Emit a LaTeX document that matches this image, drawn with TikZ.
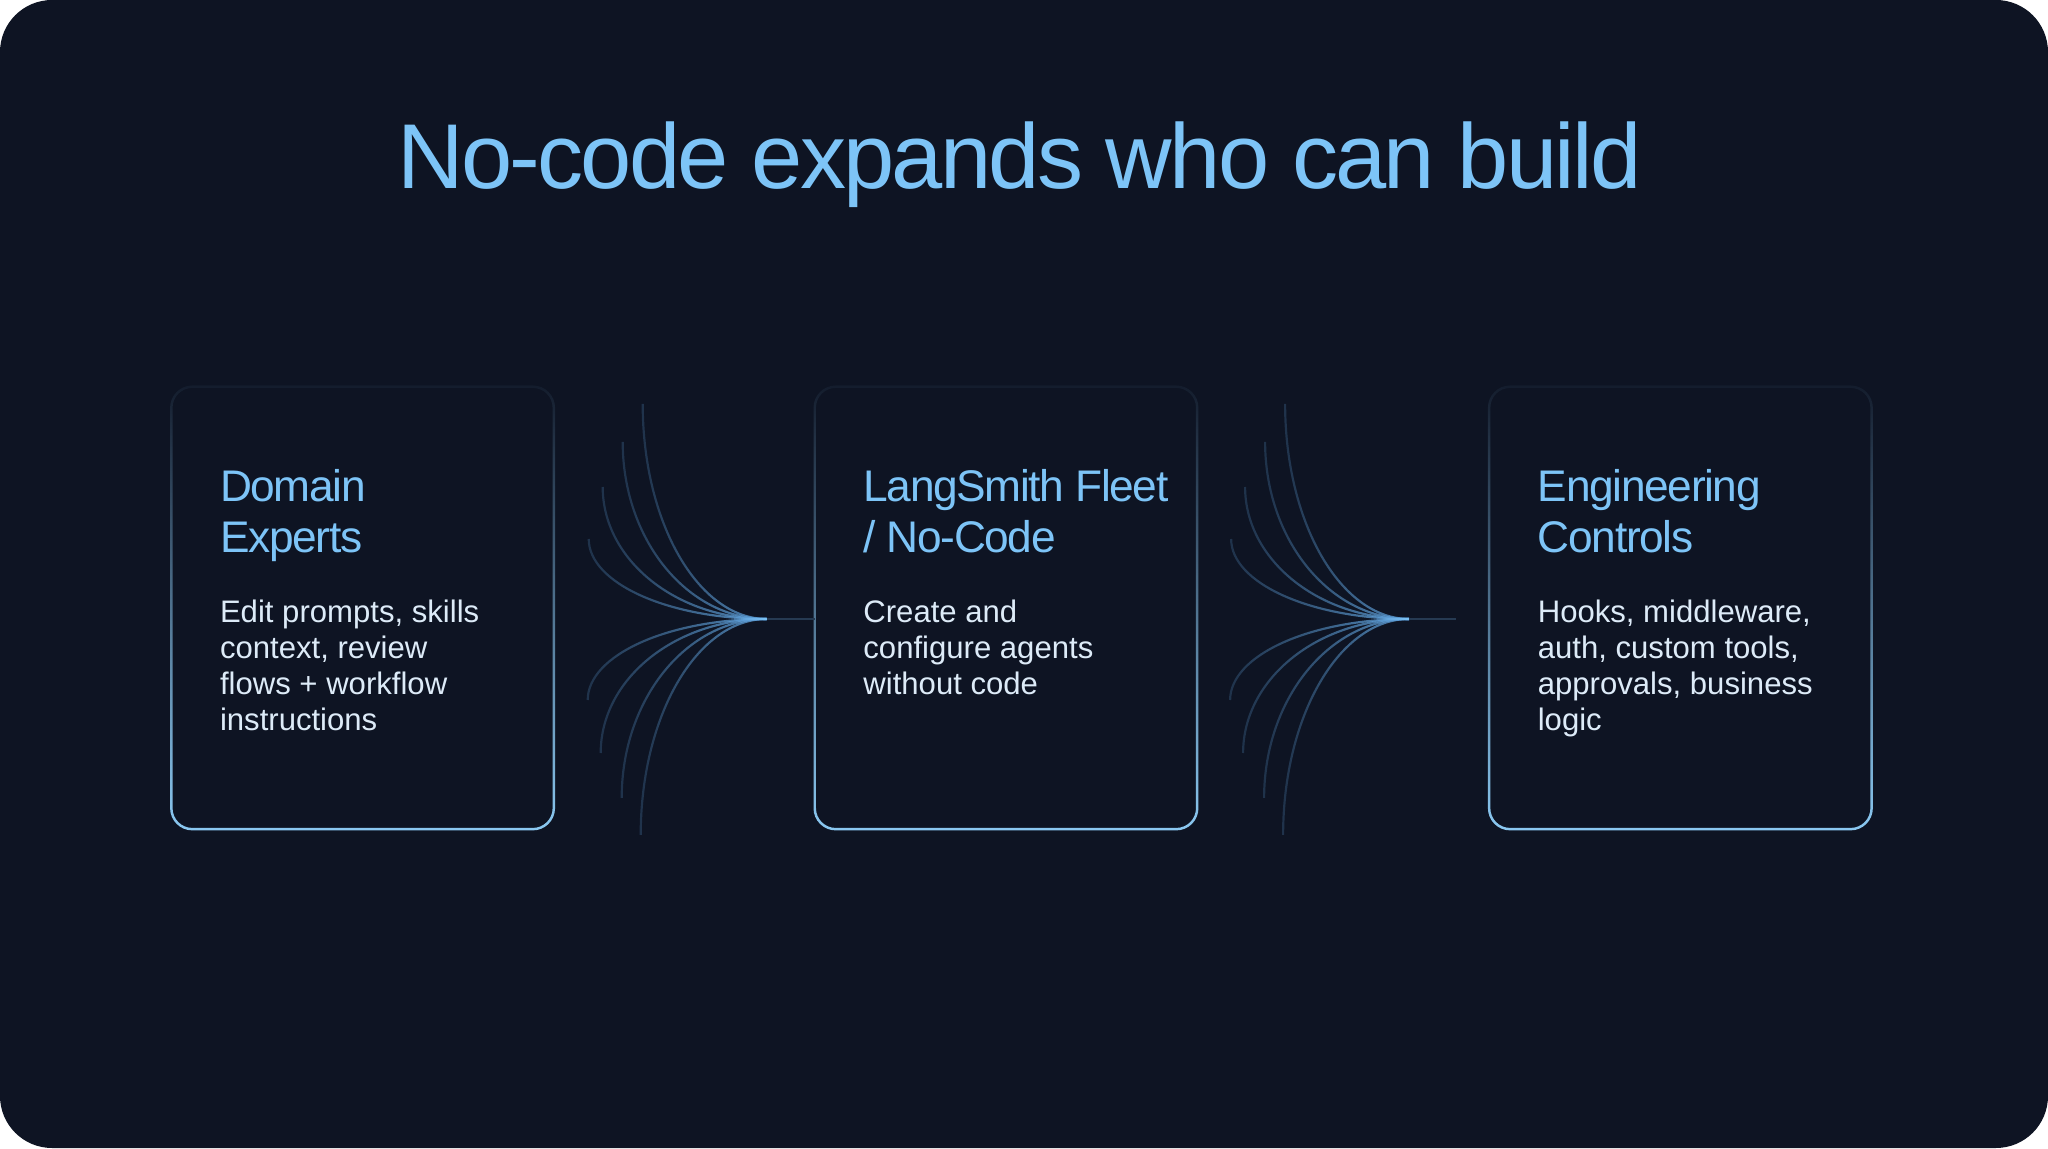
\documentclass[tikz,border=0pt]{standalone}
\usepackage{fontspec}
\setmainfont{Liberation Sans}
\newfontfamily\tightfont[LetterSpace=-3]{Liberation Sans}
\usepackage{tikz}
\usetikzlibrary{calc,positioning,fadings}

\definecolor{navy}{RGB}{14,20,35}
\definecolor{skyblue}{RGB}{125,196,247}
\definecolor{paleblue}{RGB}{221,235,248}
\definecolor{rimblue}{RGB}{139,201,242}
\definecolor{fanblue}{RGB}{94,159,216}
\definecolor{hubdark}{RGB}{38,58,82}

\tikzfading[name=rimfade,top color=transparent!95,bottom color=transparent!0]
\tikzfading[name=fanfade,left color=transparent!78,right color=transparent!15]
\tikzfading[name=tipfade,left color=transparent!100,right color=transparent!0]

\begin{document}
\begin{tikzpicture}[card/.style={minimum width=3.81cm,minimum height=4.41cm,inner sep=0pt},
cardline/.style={rimblue,line width=0.7pt,rounded corners=0.21cm,path fading=rimfade},
head/.style={skyblue,inner sep=0pt,align=left,font=\tightfont\fontsize{12.6}{14.5}\selectfont},
body/.style={paleblue,inner sep=0pt,align=left,font=\fontsize{8.85}{10.24}\selectfont},
fan/.style={fanblue,line width=0.62pt,path fading=fanfade},
hubline/.style={hubdark,line width=0.6pt},
glow/.style={skyblue,line width=0.85pt,path fading=tipfade}]
% page
\fill[white] (0,0) rectangle (20.48,11.48);
\fill[navy,rounded corners=0.52cm] (0,0) rectangle (20.48,11.48);
\node[skyblue,inner sep=0pt,anchor=base,font=\tightfont\fontsize{26.2}{30}\selectfont] (title) at (10.195,9.59) {No-code expands who can build};
% cards
\node[card] (dom) at (3.625,5.40) {};
\node[card,right=2.61cm of dom] (fleet) {};
\node[card,right=2.92cm of fleet] (eng) {};
\foreach \b in {dom,fleet,eng} \draw[cardline] (\b.north west) rectangle (\b.south east);
\node[head,below right=0.82cm and 0.48cm of dom.north west] (domh) {Domain\\Experts};
\node[body,below right=2.12cm and 0.48cm of dom.north west] (domt) {Edit prompts, skills\\context, review\\flows + workflow\\instructions};
\node[head,below right=0.82cm and 0.48cm of fleet.north west] (fleeth) {LangSmith Fleet\\/ No-Code};
\node[body,below right=2.12cm and 0.48cm of fleet.north west] (fleett) {Create and\\configure agents\\without code};
\node[head,below right=0.82cm and 0.48cm of eng.north west] (engh) {Engineering\\Controls};
\node[body,below right=2.12cm and 0.48cm of eng.north west] (engt) {Hooks, middleware,\\auth, custom tools,\\approvals, business\\logic};
% fans
\coordinate (hub1) at ($(dom.east)+(2.13,-0.11)$);
\coordinate (hub2) at ($(fleet.east)+(2.12,-0.11)$);
\coordinate (stub2) at ($(hub2)+(0.47,0)$);
\foreach \h in {hub1,hub2}{
  \foreach \dx/\dy [count=\i] in {1.24/2.15,1.44/1.77,1.64/1.32,1.78/0.80,1.79/-0.81,1.66/-1.34,1.45/-1.79,1.26/-2.16}{
    \coordinate (\h-\i) at ($(\h)+(-\dx,\dy)$);
    \draw[fan] (\h) .. controls ($(\h)+(-0.552*\dx,0)$) and ($(\h-\i)+(0,-0.552*\dy)$) .. (\h-\i);
  }
  \coordinate (\h-tip) at ($(\h)+(-0.3,0)$);
  \draw[glow] (\h-tip) -- (\h);
}
\draw[hubline] (hub1) -- (fleet.west |- hub1);
\draw[hubline] (hub2) -- (stub2);
\end{tikzpicture}
\end{document}
